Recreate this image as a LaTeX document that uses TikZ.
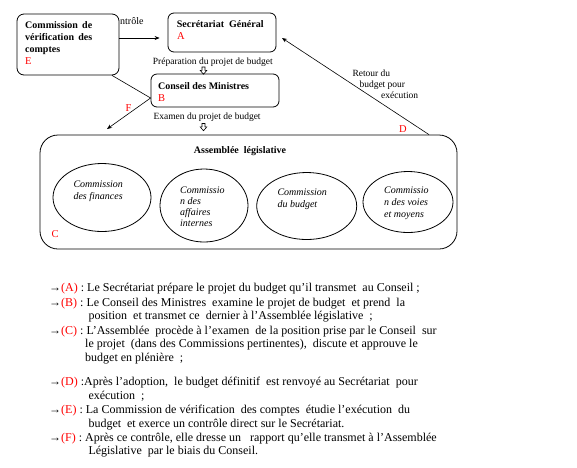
\documentclass[tikz,border=0pt]{standalone}
\usepackage{fontspec}
\setmainfont{Liberation Serif}
\usetikzlibrary{shapes.geometric,arrows.meta,calc}
\newcommand\hollowdown[1]{\draw[line width=0.6pt] (#1) ++(-1.5,0) -- ++(0,3.4) -- ++(-1.8,0) -- ++(3.3,3.8) -- ++(3.3,-3.8) -- ++(-1.8,0) -- ++(0,-3.4) -- cycle;}
\begin{document}
\begin{tikzpicture}[x=1pt,y=-1pt,
  box/.style={draw, line width=0.8pt, rounded corners=7pt, inner sep=0pt},
  ell/.style={draw, ellipse, line width=0.8pt, inner sep=0pt},
  bt/.style={font=\fontsize{10}{12}\selectfont\bfseries, inner sep=0pt, anchor=base west},
  itx/.style={font=\fontsize{10}{12}\selectfont\itshape, inner sep=0pt, anchor=base west},
  lbl/.style={font=\fontsize{9.5}{11}\selectfont, inner sep=0pt, anchor=base west},
  rl/.style={font=\fontsize{10.5}{12}\selectfont, text=red, inner sep=0pt, anchor=base west},
  tx/.style={font=\fontsize{12}{14}\selectfont, inner sep=0pt, anchor=base west},
  arr/.style={line width=0.6pt, -{Stealth[length=5pt,width=4pt]}},
  con/.style={line width=0.6pt}]
\useasboundingbox (0,0) rectangle (577,467);

% boxes
\node[box, minimum width=102pt, minimum height=61pt] (E) at (68,44.5) {};
\node[box, rounded corners=6pt, minimum width=108pt, minimum height=39pt] (A) at (222,32.5) {};
\node[box, rounded corners=6pt, minimum width=128pt, minimum height=33pt] (B) at (215,90.5) {};
\node[box, rounded corners=18pt, minimum width=417pt, minimum height=114pt] (C) at (248.5,192) {};

% box texts
\node[bt] (e1) at (25,28.5) {\makebox[67pt][s]{Commission de}};
\node[bt] (e2) at (25,40.5) {\makebox[67pt][s]{vérification des}};
\node[bt] (e3) at (25,52.5) {comptes};
\node[rl] (e4) at (25,64.5) {E};
\node[bt] (a1) at (176.7,27.3) {Secrétariat\ \ Général};
\node[rl] (a2) at (177,39.8) {A};
\node[bt] (b1) at (158,89) {Conseil des Ministres};
\node[rl] (b2) at (158,101) {B};
\node[bt, anchor=base] (c1) at (240,153.3) {Assemblée\ \ législative};
\node[rl] (c2) at (51.5,237) {C};

% ellipses
\node[ell, minimum width=98pt, minimum height=68pt] (k1) at (102,197.5) {};
\node[ell, minimum width=88pt, minimum height=73pt] (k2) at (204,205.5) {};
\node[ell, minimum width=100pt, minimum height=67pt] (k3) at (306.7,206) {};
\node[ell, minimum width=90pt, minimum height=61pt] (k4) at (408,202) {};
\node[itx] (k1a) at (73.3,187) {Commission};
\node[itx] (k1b) at (73.3,199) {des finances};
\node[itx] (k2a) at (180,193.3) {Commissio};
\node[itx] (k2b) at (180,204) {n des};
\node[itx] (k2c) at (180,215.5) {affaires};
\node[itx] (k2d) at (180,226.5) {internes};
\node[itx] (k3a) at (277.3,195.7) {Commission};
\node[itx] (k3b) at (277.3,207) {du budget};
\node[itx] (k4a) at (384,193.3) {Commissio};
\node[itx] (k4b) at (384,205) {n des voies};
\node[itx] (k4c) at (384,217) {et moyens};

% labels
\node[lbl, font=\fontsize{10}{12}\selectfont] (ctl) at (120,24) {ntrôle};
\node[lbl] (prep) at (152.7,64.8) {Préparation du projet de budget};
\node[lbl] (exam) at (153.3,119.5) {Examen du projet de budget};
\node[lbl] (r1) at (352.3,76.5) {Retour du};
\node[lbl] (r2) at (359.3,87.5) {budget pour};
\node[lbl] (r3) at (381,98.5) {exécution};
\node[rl] (dl) at (399,132) {D};
\node[rl] (fl) at (125.5,111) {F};

% connectors
\draw[arr, shorten >=8pt] (E.east |- 0,38) -- (A.west |- 0,38);
\coordinate (eb) at ([xshift=44pt]E.south);
\coordinate (bF) at (B.west |- 0,98);
\coordinate (fTip) at (107,129);
\draw[con] (eb) -- (bF);
\draw[arr] (bF) -- (fTip);
\coordinate (dS) at (C.north -| 429,0);
\coordinate (dTip) at (282,38);
\draw[arr] (dS) -- (dTip);
\hollowdown{203.5,67}
\hollowdown{203.5,123.5}

% explanatory text
\node[tx] (tA) at (49,291.7) {→\textcolor{red}{(A)} : Le Secrétariat prépare le projet du budget qu’il transmet\ \ au Conseil ;};
\node[tx] (tB1) at (49,306) {→\textcolor{red}{(B)} : Le Conseil des Ministres\ \ examine le projet de budget\ \ et prend\ \ la};
\node[tx] (tB2) at (88.3,319.5) {position\ \ et transmet ce\ \ dernier à l’Assemblée législative\ \ ;};
\node[tx] (tC1) at (49,334.3) {→\textcolor{red}{(C)} : L’Assemblée\ \ procède à l’examen\ \ de la position prise par le Conseil\ \ sur};
\node[tx] (tC2) at (85,347.7) {le projet\ \ (dans des Commissions pertinentes),\ \ discute et approuve le};
\node[tx] (tC3) at (85,361.7) {budget en plénière\ \ ;};
\node[tx] (tD1) at (49,385) {→\textcolor{red}{(D)} :Après l’adoption,\ \ le budget définitif\ \ est renvoyé au Secrétariat\ \ pour};
\node[tx] (tD2) at (88.3,399.5) {exécution\ \ ;};
\node[tx] (tE1) at (49,413.3) {→\textcolor{red}{(E)} : La Commission de vérification\ \ des comptes\ \ étudie l’exécution\ \ du};
\node[tx] (tE2) at (88.3,427.3) {budget\ \ et exerce un contrôle direct sur le Secrétariat.};
\node[tx] (tF1) at (49,441) {→\textcolor{red}{(F)} : Après ce contrôle, elle dresse un\ \ \ rapport qu’elle transmet à l’Assemblée};
\node[tx] (tF2) at (88.3,454.3) {Législative\ \ par le biais du Conseil.};
\end{tikzpicture}
\end{document}
